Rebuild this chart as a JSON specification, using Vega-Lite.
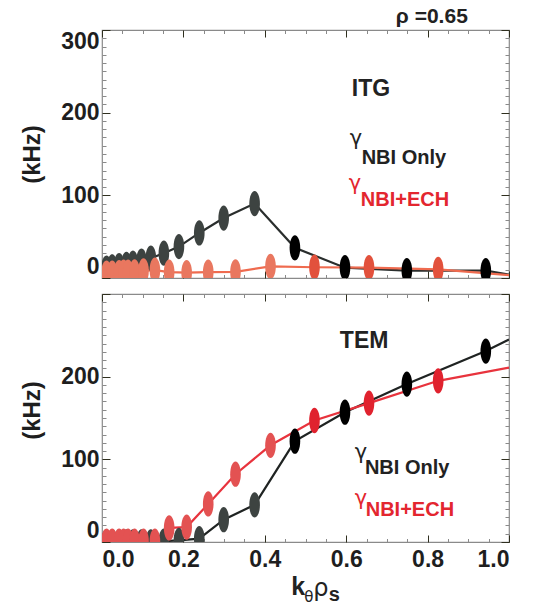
{
  "$schema": "https://vega.github.io/schema/vega-lite/v6.json",
  "padding": {"left": 20, "top": 5, "right": 5, "bottom": 0},
  "spacing": 12,
  "config": {
    "view": {"stroke": "#8a8a8a", "strokeWidth": 1.2},
    "font": "Liberation Sans Narrow, Liberation Sans, sans-serif",
    "axis": {"grid": false, "domain": false, "labelFont": "Liberation Sans Narrow, Liberation Sans, sans-serif", "labelFontSize": 23, "labelFontWeight": "bold", "labelColor": "#1e1e1e", "titleFont": "Liberation Sans Narrow, Liberation Sans, sans-serif", "titleFontSize": 24, "titleFontWeight": "bold", "titleColor": "#1e1e1e", "tickWidth": 1}
  },
  "datasets": {
    "itg": [
      {"k": 0.011, "f": 12, "series": "NBI Only"},
      {"k": 0.025, "f": 13.5, "series": "NBI Only"},
      {"k": 0.042, "f": 15, "series": "NBI Only"},
      {"k": 0.060, "f": 16.5, "series": "NBI Only"},
      {"k": 0.076, "f": 18, "series": "NBI Only"},
      {"k": 0.097, "f": 20.5, "series": "NBI Only"},
      {"k": 0.120, "f": 24, "series": "NBI Only"},
      {"k": 0.152, "f": 30, "series": "NBI Only"},
      {"k": 0.189, "f": 38, "series": "NBI Only"},
      {"k": 0.239, "f": 54.5, "series": "NBI Only"},
      {"k": 0.299, "f": 72.5, "series": "NBI Only"},
      {"k": 0.375, "f": 90, "series": "NBI Only"},
      {"k": 0.474, "f": 36.5, "series": "NBI Only"},
      {"k": 0.597, "f": 12.5, "series": "NBI Only"},
      {"k": 0.749, "f": 9, "series": "NBI Only"},
      {"k": 0.943, "f": 9, "series": "NBI Only"},
      {"k": 1.0, "f": 4, "series": "NBI Only"},
      {"k": 0.011, "f": 6, "series": "NBI+ECH"},
      {"k": 0.025, "f": 6, "series": "NBI+ECH"},
      {"k": 0.042, "f": 6.5, "series": "NBI+ECH"},
      {"k": 0.053, "f": 7, "series": "NBI+ECH"},
      {"k": 0.064, "f": 7, "series": "NBI+ECH"},
      {"k": 0.080, "f": 7.5, "series": "NBI+ECH"},
      {"k": 0.102, "f": 8.5, "series": "NBI+ECH"},
      {"k": 0.130, "f": 9.5, "series": "NBI+ECH"},
      {"k": 0.165, "f": 7, "series": "NBI+ECH"},
      {"k": 0.208, "f": 6.5, "series": "NBI+ECH"},
      {"k": 0.261, "f": 7, "series": "NBI+ECH"},
      {"k": 0.328, "f": 7.5, "series": "NBI+ECH"},
      {"k": 0.414, "f": 14, "series": "NBI+ECH"},
      {"k": 0.522, "f": 13, "series": "NBI+ECH"},
      {"k": 0.656, "f": 12.5, "series": "NBI+ECH"},
      {"k": 0.826, "f": 10.5, "series": "NBI+ECH"},
      {"k": 1.0, "f": 3.5, "series": "NBI+ECH"}
    ],
    "tem": [
      {"k": 0.011, "f": 0, "series": "NBI Only"},
      {"k": 0.025, "f": 0, "series": "NBI Only"},
      {"k": 0.042, "f": 0, "series": "NBI Only"},
      {"k": 0.060, "f": 0, "series": "NBI Only"},
      {"k": 0.076, "f": 0, "series": "NBI Only"},
      {"k": 0.097, "f": 0, "series": "NBI Only"},
      {"k": 0.120, "f": 0, "series": "NBI Only"},
      {"k": 0.152, "f": 1, "series": "NBI Only"},
      {"k": 0.189, "f": 2, "series": "NBI Only"},
      {"k": 0.239, "f": 4, "series": "NBI Only"},
      {"k": 0.299, "f": 27, "series": "NBI Only"},
      {"k": 0.375, "f": 45, "series": "NBI Only"},
      {"k": 0.474, "f": 122, "series": "NBI Only"},
      {"k": 0.597, "f": 157, "series": "NBI Only"},
      {"k": 0.749, "f": 191, "series": "NBI Only"},
      {"k": 0.943, "f": 231, "series": "NBI Only"},
      {"k": 1.0, "f": 245, "series": "NBI Only"},
      {"k": 0.011, "f": 1, "series": "NBI+ECH"},
      {"k": 0.025, "f": 1, "series": "NBI+ECH"},
      {"k": 0.042, "f": 1, "series": "NBI+ECH"},
      {"k": 0.053, "f": 1, "series": "NBI+ECH"},
      {"k": 0.064, "f": 1, "series": "NBI+ECH"},
      {"k": 0.080, "f": 1, "series": "NBI+ECH"},
      {"k": 0.102, "f": 1, "series": "NBI+ECH"},
      {"k": 0.130, "f": 1, "series": "NBI+ECH"},
      {"k": 0.165, "f": 17, "series": "NBI+ECH"},
      {"k": 0.208, "f": 18, "series": "NBI+ECH"},
      {"k": 0.261, "f": 46, "series": "NBI+ECH"},
      {"k": 0.328, "f": 82, "series": "NBI+ECH"},
      {"k": 0.414, "f": 117, "series": "NBI+ECH"},
      {"k": 0.522, "f": 147, "series": "NBI+ECH"},
      {"k": 0.656, "f": 168, "series": "NBI+ECH"},
      {"k": 0.826, "f": 195, "series": "NBI+ECH"},
      {"k": 1.0, "f": 211, "series": "NBI+ECH"}
    ]
  },
  "vconcat": [
    {
      "width": 407,
      "height": 248,
      "data": {"name": "itg"},
      "resolve": {"axis": {"x": "independent", "y": "independent"}},
      "layer": [
        {
          "mark": {"type": "line", "strokeWidth": 2.2, "clip": true},
          "encoding": {
            "x": {"field": "k", "type": "quantitative", "scale": {"domain": [0, 1], "nice": false, "zero": false},
              "axis": {"orient": "bottom", "values": [0, 0.05, 0.1, 0.15, 0.2, 0.25, 0.3, 0.35, 0.4, 0.45, 0.5, 0.55, 0.6, 0.65, 0.7, 0.75, 0.8, 0.85, 0.9, 0.95, 1], "labels": false, "title": null,
                "tickSize": {"condition": {"test": "abs(datum.value*5 - round(datum.value*5)) < 0.001", "value": -7}, "value": -3.5},
                "tickColor": {"condition": {"test": "abs(datum.value*5 - round(datum.value*5)) < 0.001", "value": "#2f2f1f"}, "value": "#8a8a8a"}}},
            "y": {"field": "f", "type": "quantitative", "scale": {"domain": [0, 300], "nice": false},
              "axis": {"orient": "left", "values": [0, 10, 20, 30, 40, 50, 60, 70, 80, 90, 100, 110, 120, 130, 140, 150, 160, 170, 180, 190, 200, 210, 220, 230, 240, 250, 260, 270, 280, 290, 300],
                "labelExpr": "datum.value % 100 === 0 ? datum.label : ''", "labelFlush": true, "labelPadding": 11, "title": "(kHz)", "titlePadding": 16,
                "tickSize": {"condition": {"test": "datum.value % 100 === 0", "value": -8}, "value": -4},
                "tickColor": {"condition": {"test": "datum.value % 100 === 0", "value": "#2f2f1f"}, "value": "#8a8a8a"}}},
            "detail": {"field": "series"},
            "stroke": {"condition": {"test": "datum.series === 'NBI Only'", "value": "#2a2e2d"}, "value": "#ef6b4f"}
          }
        },
        {
          "transform": [{"filter": "datum.k < 0.999"}],
          "mark": {"type": "point", "shape": "M0,-1A0.42,1,0,1,1,0,1A0.42,1,0,1,1,0,-1Z", "size": 640, "filled": true, "opacity": 1, "strokeWidth": 0, "clip": true},
          "encoding": {
            "x": {"field": "k", "type": "quantitative",
              "axis": {"orient": "top", "values": [0, 0.05, 0.1, 0.15, 0.2, 0.25, 0.3, 0.35, 0.4, 0.45, 0.5, 0.55, 0.6, 0.65, 0.7, 0.75, 0.8, 0.85, 0.9, 0.95, 1], "labels": false, "title": null,
                "tickSize": {"condition": {"test": "abs(datum.value*5 - round(datum.value*5)) < 0.001", "value": -7}, "value": -3.5},
                "tickColor": {"condition": {"test": "abs(datum.value*5 - round(datum.value*5)) < 0.001", "value": "#2f2f1f"}, "value": "#8a8a8a"}}},
            "y": {"field": "f", "type": "quantitative",
              "axis": {"orient": "right", "values": [0, 10, 20, 30, 40, 50, 60, 70, 80, 90, 100, 110, 120, 130, 140, 150, 160, 170, 180, 190, 200, 210, 220, 230, 240, 250, 260, 270, 280, 290, 300], "labels": false, "title": null,
                "tickSize": {"condition": {"test": "datum.value % 100 === 0", "value": -8}, "value": -4},
                "tickColor": {"condition": {"test": "datum.value % 100 === 0", "value": "#2f2f1f"}, "value": "#8a8a8a"}}},
            "fill": {"condition": [
              {"test": "datum.series === 'NBI Only' && datum.k < 0.42", "value": "#3d4341"},
              {"test": "datum.series === 'NBI Only'", "value": "#000000"},
              {"test": "datum.k < 0.45", "value": "#e9775f"}], "value": "#e2513c"}
          }
        },
        {
          "data": {"values": [{"t": "ITG"}]},
          "mark": {"type": "text", "fontSize": 23, "fontWeight": "bold", "align": "center", "baseline": "middle", "color": "#222222"},
          "encoding": {"x": {"datum": 0.661, "type": "quantitative", "axis": null}, "y": {"datum": 228.8, "type": "quantitative", "axis": null}, "text": {"field": "t"}}
        },
        {
          "data": {"values": [{"t": "γ"}]},
          "mark": {"type": "text", "font": "DejaVu Sans", "fontSize": 21, "align": "left", "baseline": "alphabetic", "color": "#222222"},
          "encoding": {"x": {"datum": 0.609, "type": "quantitative", "axis": null}, "y": {"datum": 161, "type": "quantitative", "axis": null}, "text": {"field": "t"}}
        },
        {
          "data": {"values": [{"t": "NBI Only"}]},
          "mark": {"type": "text", "fontSize": 20, "fontWeight": "bold", "align": "left", "baseline": "alphabetic", "color": "#222222"},
          "encoding": {"x": {"datum": 0.638, "type": "quantitative", "axis": null}, "y": {"datum": 138.5, "type": "quantitative", "axis": null}, "text": {"field": "t"}}
        },
        {
          "data": {"values": [{"t": "γ"}]},
          "mark": {"type": "text", "font": "DejaVu Sans", "fontSize": 21, "align": "left", "baseline": "alphabetic", "color": "#e3262f"},
          "encoding": {"x": {"datum": 0.606, "type": "quantitative", "axis": null}, "y": {"datum": 106, "type": "quantitative", "axis": null}, "text": {"field": "t"}}
        },
        {
          "data": {"values": [{"t": "NBI+ECH"}]},
          "mark": {"type": "text", "fontSize": 20, "fontWeight": "bold", "align": "left", "baseline": "alphabetic", "color": "#e3262f"},
          "encoding": {"x": {"datum": 0.636, "type": "quantitative", "axis": null}, "y": {"datum": 87, "type": "quantitative", "axis": null}, "text": {"field": "t"}}
        },
        {
          "data": {"values": [{"t": "ρ =0.65"}]},
          "mark": {"type": "text", "fontSize": 21, "fontWeight": "bold", "align": "left", "baseline": "alphabetic", "color": "#222222"},
          "encoding": {"x": {"datum": 0.722, "type": "quantitative", "axis": null}, "y": {"datum": 308, "type": "quantitative", "axis": null}, "text": {"field": "t"}}
        }
      ]
    },
    {
      "width": 407,
      "height": 248,
      "data": {"name": "tem"},
      "resolve": {"axis": {"x": "independent", "y": "independent"}},
      "layer": [
        {
          "mark": {"type": "line", "strokeWidth": 2.2, "clip": true},
          "encoding": {
            "x": {"field": "k", "type": "quantitative", "scale": {"domain": [0, 1], "nice": false, "zero": false},
              "axis": {"orient": "bottom", "values": [0, 0.05, 0.1, 0.15, 0.2, 0.25, 0.3, 0.35, 0.4, 0.45, 0.5, 0.55, 0.6, 0.65, 0.7, 0.75, 0.8, 0.85, 0.9, 0.95, 1],
                "labelExpr": "abs(datum.value*5 - round(datum.value*5)) < 0.001 ? format(datum.value, '.1f') : ''", "labelPadding": 13, "labelDx": 3, "title": null,
                "tickSize": {"condition": {"test": "abs(datum.value*5 - round(datum.value*5)) < 0.001", "value": -7}, "value": -3.5},
                "tickColor": {"condition": {"test": "abs(datum.value*5 - round(datum.value*5)) < 0.001", "value": "#2f2f1f"}, "value": "#8a8a8a"}}},
            "y": {"field": "f", "type": "quantitative", "scale": {"domain": [0, 300], "nice": false},
              "axis": {"orient": "left", "values": [0, 10, 20, 30, 40, 50, 60, 70, 80, 90, 100, 110, 120, 130, 140, 150, 160, 170, 180, 190, 200, 210, 220, 230, 240, 250, 260, 270, 280, 290, 300],
                "labelExpr": "datum.value % 100 === 0 && datum.value < 300 ? datum.label : ''", "labelFlush": true, "labelPadding": 11, "title": "(kHz)", "titlePadding": 16, "titleY": 116,
                "tickSize": {"condition": {"test": "datum.value % 100 === 0", "value": -8}, "value": -4},
                "tickColor": {"condition": {"test": "datum.value % 100 === 0", "value": "#2f2f1f"}, "value": "#8a8a8a"}}},
            "detail": {"field": "series"},
            "stroke": {"condition": {"test": "datum.series === 'NBI Only'", "value": "#1f2322"}, "value": "#e8333d"}
          }
        },
        {
          "transform": [{"filter": "datum.k < 0.999"}],
          "mark": {"type": "point", "shape": "M0,-1A0.42,1,0,1,1,0,1A0.42,1,0,1,1,0,-1Z", "size": 640, "filled": true, "opacity": 1, "strokeWidth": 0, "clip": true},
          "encoding": {
            "x": {"field": "k", "type": "quantitative",
              "axis": {"orient": "top", "values": [0, 0.05, 0.1, 0.15, 0.2, 0.25, 0.3, 0.35, 0.4, 0.45, 0.5, 0.55, 0.6, 0.65, 0.7, 0.75, 0.8, 0.85, 0.9, 0.95, 1], "labels": false, "title": null,
                "tickSize": {"condition": {"test": "abs(datum.value*5 - round(datum.value*5)) < 0.001", "value": -7}, "value": -3.5},
                "tickColor": {"condition": {"test": "abs(datum.value*5 - round(datum.value*5)) < 0.001", "value": "#2f2f1f"}, "value": "#8a8a8a"}}},
            "y": {"field": "f", "type": "quantitative",
              "axis": {"orient": "right", "values": [0, 10, 20, 30, 40, 50, 60, 70, 80, 90, 100, 110, 120, 130, 140, 150, 160, 170, 180, 190, 200, 210, 220, 230, 240, 250, 260, 270, 280, 290, 300], "labels": false, "title": null,
                "tickSize": {"condition": {"test": "datum.value % 100 === 0", "value": -8}, "value": -4},
                "tickColor": {"condition": {"test": "datum.value % 100 === 0", "value": "#2f2f1f"}, "value": "#8a8a8a"}}},
            "fill": {"condition": [
              {"test": "datum.series === 'NBI Only' && datum.k < 0.42", "value": "#3d4341"},
              {"test": "datum.series === 'NBI Only'", "value": "#000000"},
              {"test": "datum.k < 0.45", "value": "#e35252"}], "value": "#e0222e"}
          }
        },
        {
          "data": {"values": [{"t": "TEM"}]},
          "mark": {"type": "text", "fontSize": 23, "fontWeight": "bold", "align": "center", "baseline": "middle", "color": "#222222"},
          "encoding": {"x": {"datum": 0.644, "type": "quantitative", "axis": null}, "y": {"datum": 243.5, "type": "quantitative", "axis": null}, "text": {"field": "t"}}
        },
        {
          "data": {"values": [{"t": "γ"}]},
          "mark": {"type": "text", "font": "DejaVu Sans", "fontSize": 21, "align": "left", "baseline": "alphabetic", "color": "#222222"},
          "encoding": {"x": {"datum": 0.621, "type": "quantitative", "axis": null}, "y": {"datum": 100.8, "type": "quantitative", "axis": null}, "text": {"field": "t"}}
        },
        {
          "data": {"values": [{"t": "NBI Only"}]},
          "mark": {"type": "text", "fontSize": 20, "fontWeight": "bold", "align": "left", "baseline": "alphabetic", "color": "#222222"},
          "encoding": {"x": {"datum": 0.646, "type": "quantitative", "axis": null}, "y": {"datum": 82.6, "type": "quantitative", "axis": null}, "text": {"field": "t"}}
        },
        {
          "data": {"values": [{"t": "γ"}]},
          "mark": {"type": "text", "font": "DejaVu Sans", "fontSize": 21, "align": "left", "baseline": "alphabetic", "color": "#e3262f"},
          "encoding": {"x": {"datum": 0.621, "type": "quantitative", "axis": null}, "y": {"datum": 45, "type": "quantitative", "axis": null}, "text": {"field": "t"}}
        },
        {
          "data": {"values": [{"t": "NBI+ECH"}]},
          "mark": {"type": "text", "fontSize": 20, "fontWeight": "bold", "align": "left", "baseline": "alphabetic", "color": "#e3262f"},
          "encoding": {"x": {"datum": 0.648, "type": "quantitative", "axis": null}, "y": {"datum": 31.8, "type": "quantitative", "axis": null}, "text": {"field": "t"}}
        },
        {
          "data": {"values": [{"t": "k"}]},
          "mark": {"type": "text", "fontSize": 25, "fontWeight": "bold", "align": "left", "baseline": "alphabetic", "color": "#222222"},
          "encoding": {"x": {"datum": 0.465, "type": "quantitative", "axis": null}, "y": {"datum": -64, "type": "quantitative", "axis": null}, "text": {"field": "t"}}
        },
        {
          "data": {"values": [{"t": "θ"}]},
          "mark": {"type": "text", "font": "DejaVu Sans", "fontSize": 15, "align": "left", "baseline": "alphabetic", "color": "#222222"},
          "encoding": {"x": {"datum": 0.497, "type": "quantitative", "axis": null}, "y": {"datum": -72.5, "type": "quantitative", "axis": null}, "text": {"field": "t"}}
        },
        {
          "data": {"values": [{"t": "ρ"}]},
          "mark": {"type": "text", "font": "DejaVu Sans", "fontSize": 24, "align": "left", "baseline": "alphabetic", "color": "#222222"},
          "encoding": {"x": {"datum": 0.519, "type": "quantitative", "axis": null}, "y": {"datum": -65, "type": "quantitative", "axis": null}, "text": {"field": "t"}}
        },
        {
          "data": {"values": [{"t": "s"}]},
          "mark": {"type": "text", "fontSize": 20, "fontWeight": "bold", "align": "left", "baseline": "alphabetic", "color": "#222222"},
          "encoding": {"x": {"datum": 0.557, "type": "quantitative", "axis": null}, "y": {"datum": -71.5, "type": "quantitative", "axis": null}, "text": {"field": "t"}}
        }
      ]
    }
  ]
}
